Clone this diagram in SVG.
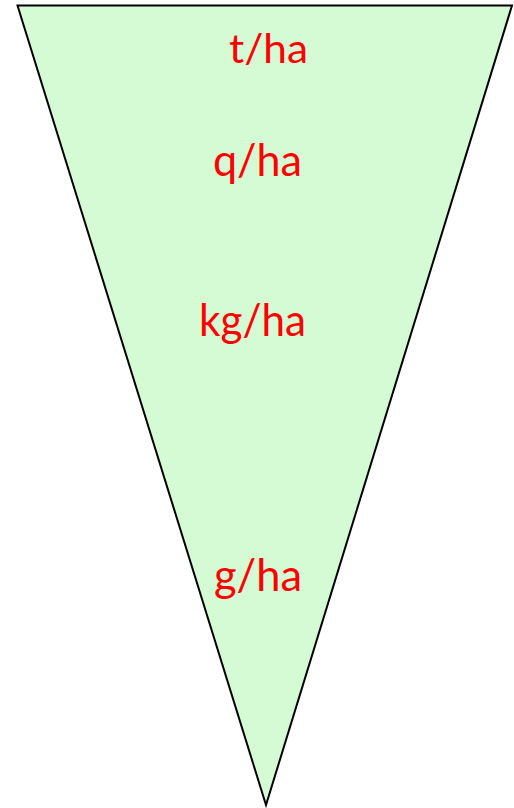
<svg xmlns="http://www.w3.org/2000/svg" width="514" height="808" viewBox="0 0 514 808">
<style>
.lbl{font-family:Lato,"Liberation Sans",Arial,sans-serif;fill:#ff0000;font-size:45px}
</style>
<rect width="514" height="808" fill="#ffffff"/>
<g id="funnel">
<polygon points="17.5,5.5 512,5.5 266,805" fill="#d4fbd4" stroke="#000000" stroke-width="2" stroke-linejoin="miter"/>
</g>
<g id="label-t">
<text class="lbl" x="229" y="63" style="font-size:40px" textLength="79" lengthAdjust="spacingAndGlyphs">t/ha</text>
</g>
<g id="label-q">
<text class="lbl" x="213" y="176" textLength="89" lengthAdjust="spacingAndGlyphs">q/ha</text>
</g>
<g id="label-kg">
<text class="lbl" x="199" y="336" textLength="107" lengthAdjust="spacingAndGlyphs">kg/ha</text>
</g>
<g id="label-g">
<text class="lbl" x="214" y="591" textLength="88" lengthAdjust="spacingAndGlyphs">g/ha</text>
</g>
<g id="connectors"></g>
</svg>
